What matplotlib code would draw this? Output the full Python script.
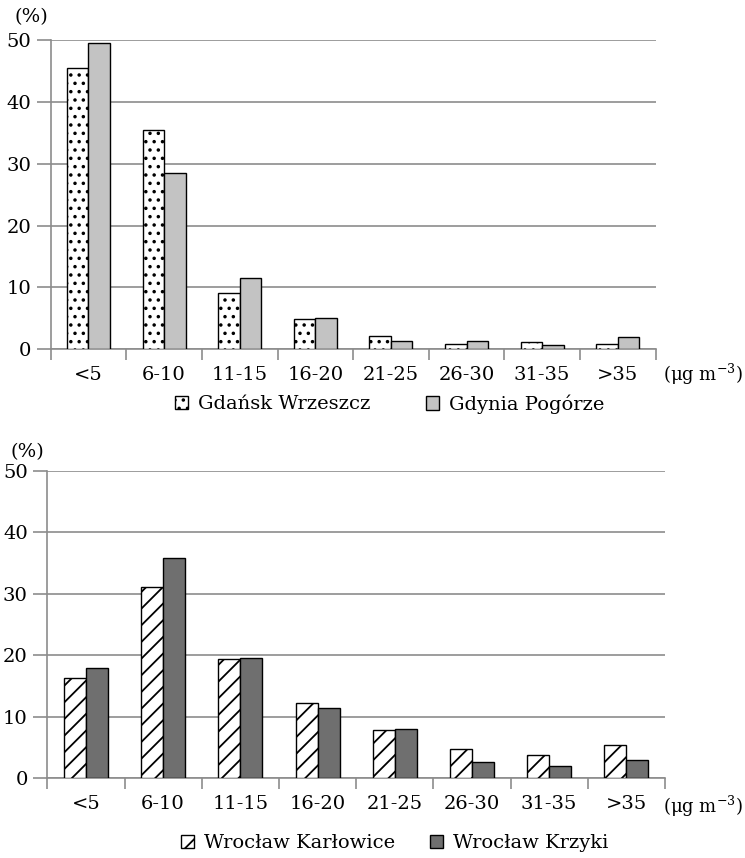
import matplotlib
matplotlib.use("Agg")
import matplotlib.pyplot as plt
from matplotlib.patches import Patch
import numpy as np

plt.rcParams['font.family'] = ['DejaVu Serif']
plt.rcParams['mathtext.fontset'] = 'dejavuserif'
plt.rcParams['hatch.linewidth'] = 1.3

categories = ['<5', '6-10', '11-15', '16-20', '21-25', '26-30', '31-35', '>35']

gdansk_wrzeszcz = [45.6, 35.5, 9.1, 4.9, 2.2, 0.9, 1.1, 0.9]
gdynia_pogorze = [49.6, 28.5, 11.5, 5.1, 1.25, 1.4, 0.6, 2.0]

wroclaw_karlowice = [16.2, 31.0, 19.3, 12.2, 7.75, 4.65, 3.7, 5.3]
wroclaw_krzyki = [17.9, 35.75, 19.5, 11.45, 7.9, 2.55, 1.9, 3.0]

GRID = '#8c8c8c'
FS = 14
W = 0.285
FW, FH = 745, 858
UNIT = '(μg m$^{\\mathregular{-3}}$)'


def draw_panel(ax, s1, s2, hatch1, color2, pct_y):
    x = np.arange(len(categories))
    ax.bar(x - W / 2, s1, W, facecolor='white', edgecolor='black',
           hatch=hatch1, linewidth=1, zorder=3)
    ax.bar(x + W / 2, s2, W, facecolor=color2, edgecolor='black',
           linewidth=1, zorder=3)
    ax.set_xlim(-0.5, len(categories) - 0.5)
    ax.set_ylim(0, 50)
    ax.set_yticks(range(0, 51, 10))
    ax.yaxis.grid(True, color=GRID, linewidth=1.2)
    ax.set_axisbelow(True)
    ax.set_xticks(np.arange(len(categories) + 1) - 0.5)
    ax.set_xticklabels([])
    ax.set_xticks(x, minor=True)
    ax.set_xticklabels(categories, minor=True, fontsize=FS)
    ax.tick_params(axis='x', which='major', length=8, color=GRID, width=1.2)
    ax.tick_params(axis='x', which='minor', length=0, pad=12)
    ax.tick_params(axis='y', length=10, color=GRID, width=1.2, labelsize=FS, pad=4)
    for s in ['top', 'right']:
        ax.spines[s].set_visible(False)
    for s in ['left', 'bottom']:
        ax.spines[s].set_color(GRID)
        ax.spines[s].set_linewidth(1.2)
    ax.text(-0.032, pct_y, '(%)', transform=ax.transAxes, fontsize=FS,
            ha='center', va='center')


def legend_entry(handle, x_px, y_px):
    fig.legend(handles=[handle], loc='center left',
               bbox_to_anchor=(x_px / FW, 1 - y_px / FH),
               frameon=False, fontsize=FS, handlelength=0.68, handleheight=0.68,
               handletextpad=0.5, borderpad=0, borderaxespad=0)


fig = plt.figure(figsize=(7.45, 8.58), dpi=100)

ax1 = fig.add_axes([0.068, 0.593, 0.812, 0.360])
draw_panel(ax1, gdansk_wrzeszcz, gdynia_pogorze, '..', '#c3c3c3', 1.074)
legend_entry(Patch(facecolor='white', edgecolor='black', hatch='..',
                   label='Gdańsk Wrzeszcz'), 175, 404)
legend_entry(Patch(facecolor='#c3c3c3', edgecolor='black',
                   label='Gdynia Pogórze'), 426, 404)
fig.text(743 / FW, 1 - 374 / FH, UNIT, fontsize=13, ha='right', va='center')

ax2 = fig.add_axes([0.0635, 0.0932, 0.829, 0.3582])
draw_panel(ax2, wroclaw_karlowice, wroclaw_krzyki, '//', '#6f6f6f', 1.061)
legend_entry(Patch(facecolor='white', edgecolor='black', hatch='//',
                   label='Wrocław Karłowice'), 181, 843)
legend_entry(Patch(facecolor='#6f6f6f', edgecolor='black',
                   label='Wrocław Krzyki'), 430, 843)
fig.text(743 / FW, 1 - 806 / FH, UNIT, fontsize=13, ha='right', va='center')

fig.savefig('out.png', dpi=100)
